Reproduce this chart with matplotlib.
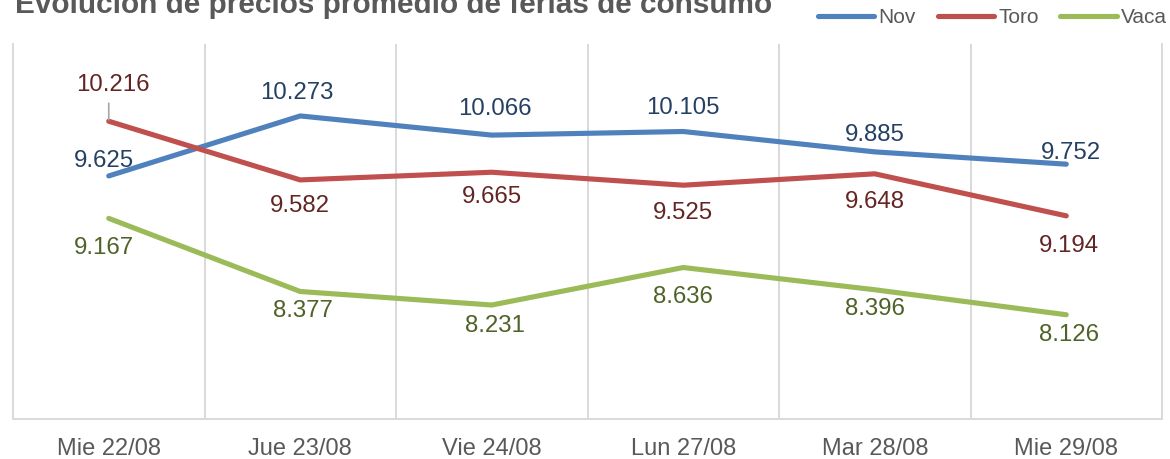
import numpy as np
import matplotlib
matplotlib.use('Agg')
import matplotlib.pyplot as plt

# datos
fechas = ['Mie 22/08', 'Jue 23/08', 'Vie 24/08', 'Lun 27/08', 'Mar 28/08', 'Mie 29/08']
nov = [9.625, 10.273, 10.066, 10.105, 9.885, 9.752]
toro = [10.216, 9.582, 9.665, 9.525, 9.648, 9.194]
vaca = [9.167, 8.377, 8.231, 8.636, 8.396, 8.126]

# desplazamiento de las etiquetas (pixeles)
off_nov = [(-5, 15), (-3, 23), (3, 26), (0, 23), (0, 17), (5, 11)]
off_toro = [(4, 36), (0, -26), (0, -25), (0, -28), (0, -28), (3, -30)]
off_vaca = [(-5, -30), (3, -20), (3, -21), (0, -29), (0, -19), (3, -20)]

plt.rcParams['font.family'] = ['Liberation Sans', 'DejaVu Sans']

fig = plt.figure(figsize=(11.7, 4.59), dpi=100)
ax = fig.add_axes([13/1170, 1-419/459, 1149/1170, 375/459])

x = np.arange(len(fechas))
series = [('Nov', nov, '#4F81BD', '#244062', off_nov),
          ('Toro', toro, '#C0504D', '#632523', off_toro),
          ('Vaca', vaca, '#9BBB59', '#4F6228', off_vaca)]

for nombre, vals, col, col_txt, offs in series:
    ax.plot(x, vals, color=col, lw=3.7, solid_capstyle='round',
            solid_joinstyle='round', label=nombre, zorder=3)
    for i, v in enumerate(vals):
        ax.annotate(f'{v:.3f}', (i, v), xytext=offs[i], textcoords='offset pixels',
                    ha='center', va='center', fontsize=17.3, color=col_txt, zorder=4)

# linea guia de la etiqueta 10.216
ax.annotate('', (0, toro[0]), xytext=(0, 18), textcoords='offset pixels',
            arrowprops=dict(arrowstyle='-', color='#A6A6A6', lw=1.2,
                            shrinkA=0, shrinkB=1))

ax.set_xlim(-0.5, len(fechas) - 0.5)
ax.set_ylim(7, 11.05)
ax.set_xticks(x)
ax.set_xticklabels(fechas)
ax.set_xticks(np.arange(0.5, len(fechas) - 1), minor=True)
ax.set_yticks([])
ax.tick_params(axis='x', which='both', length=0, pad=13.5, labelsize=17, labelcolor='#595959')
ax.grid(axis='x', which='minor', color='#D9D9D9', lw=1.4)

for s in ['left', 'right', 'bottom']:
    ax.spines[s].set_color('#D9D9D9')
    ax.spines[s].set_linewidth(1.4)
ax.spines['top'].set_visible(False)

fig.text(15/1170, 1-13/459, 'Evolución de precios promedio de ferias de consumo',
         ha='left', va='baseline', fontsize=21.4, fontweight='bold', color='#595959')

leg = fig.legend(loc='center left', bbox_to_anchor=(818/1170, 1-17.5/459), ncol=3,
                 frameon=False, handlelength=2.7, handletextpad=0.2, columnspacing=1.05,
                 borderpad=0, borderaxespad=0, fontsize=15)
for t in leg.get_texts():
    t.set_color('#595959')

fig.savefig('out.png', dpi=100)
